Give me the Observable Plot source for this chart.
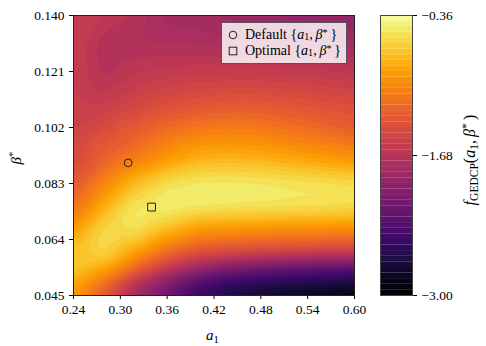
<!DOCTYPE html>
<html><head><meta charset="utf-8">
<script src="https://cdn.jsdelivr.net/npm/d3@7"></script>
<script src="https://cdn.jsdelivr.net/npm/@observablehq/plot@0.6"></script>
<style>
body{margin:0;background:#fff;}
#fig{position:relative;width:486px;height:346px;font-family:"Liberation Serif","Times New Roman",serif;color:#000;overflow:hidden;}
#main,#cbar{position:absolute;top:0;}
#main{left:0;} #cbar{left:370px;}
.lab{position:absolute;font-size:15px;white-space:nowrap;line-height:1;}
.rot{transform:translate(-50%,-50%) rotate(-90deg);}
sub,sup{font-size:72%;line-height:0;}
sup{vertical-align:0.45em;}
sub{vertical-align:-0.25em;}
#legend{position:absolute;left:221px;top:22px;width:124px;height:40px;background:rgba(255,255,255,0.82);border:1px solid #555;font-size:14px;}
#legend sup{vertical-align:0.33em;}
#legend sub{vertical-align:-0.12em;}
.lrow{position:absolute;left:0;height:16px;line-height:16px;white-space:nowrap;}
.lrow svg{position:absolute;left:6px;top:3px;}
.lrow span{position:absolute;left:23px;top:0;}
</style></head><body>
<div id="fig">
 <div id="main"></div>
 <div id="cbar"></div>
 <div class="lab" style="left:206px;top:328px;"><i>a</i><sub>1</sub></div>
 <div class="lab rot" style="left:16px;top:158px;"><i>β</i><sup>*</sup></div>
 <div class="lab rot" style="left:470px;top:160px;font-size:16px;"><i>f</i><sub>GEDCP</sub>(<i>a</i><sub>1</sub>,&#8201;<i>β</i><sup>*</sup>&#8201;)</div>
 <div id="legend">
  <div class="lrow" style="top:4px;"><svg width="10" height="10"><circle cx="5" cy="5" r="3.8" fill="none" stroke="#222" stroke-width="1"/></svg><span>Default {<i>a</i><sub>1</sub>,&#8201;<i>β</i><sup>*</sup>&#8201;}</span></div>
  <div class="lrow" style="top:20px;"><svg width="10" height="10"><rect x="1.2" y="1.2" width="7.6" height="7.6" fill="none" stroke="#222" stroke-width="1"/></svg><span>Optimal {<i>a</i><sub>1</sub>,&#8201;<i>β</i><sup>*</sup>&#8201;}</span></div>
 </div>
</div>
<script>
// grid coordinates
const a1Values = [0.24, 0.28, 0.32, 0.36, 0.40, 0.44, 0.48, 0.52, 0.56, 0.60];
const betaValues = [0.045, 0.050, 0.055, 0.060, 0.065, 0.070, 0.075, 0.080, 0.085, 0.090, 0.100, 0.110, 0.120, 0.130, 0.140];
// f_GEDCP values, one row per beta value, one column per a1 value
const fGrid = [
 [-0.94, -1.36, -1.89, -2.21, -2.55, -2.74, -2.82, -2.87, -2.92, -2.95],
 [-0.78, -1.13, -1.65, -2.02, -2.31, -2.47, -2.52, -2.58, -2.60, -2.66],
 [-0.62, -0.78, -1.15, -1.52, -1.81, -2.00, -2.10, -2.16, -2.21, -2.23],
 [-0.68, -0.57, -0.89, -1.18, -1.36, -1.42, -1.44, -1.47, -1.50, -1.52],
 [-0.84, -0.52, -0.60, -0.89, -1.07, -1.10, -1.13, -1.15, -1.15, -1.18],
 [-1.00, -0.64, -0.47, -0.60, -0.78, -0.81, -0.81, -0.84, -0.84, -0.86],
 [-1.20, -0.80, -0.49, -0.44, -0.49, -0.52, -0.52, -0.54, -0.54, -0.57],
 [-1.31, -0.95, -0.64, -0.47, -0.44, -0.44, -0.47, -0.49, -0.49, -0.52],
 [-1.39, -1.10, -0.80, -0.62, -0.54, -0.54, -0.54, -0.57, -0.60, -0.62],
 [-1.47, -1.24, -1.07, -0.89, -0.76, -0.73, -0.76, -0.81, -0.86, -0.91],
 [-1.52, -1.40, -1.28, -1.15, -1.07, -1.05, -1.07, -1.13, -1.18, -1.26],
 [-1.55, -1.58, -1.50, -1.42, -1.37, -1.34, -1.34, -1.37, -1.40, -1.42],
 [-1.55, -1.71, -1.63, -1.60, -1.57, -1.57, -1.57, -1.58, -1.60, -1.63],
 [-1.57, -1.73, -1.73, -1.73, -1.73, -1.76, -1.76, -1.79, -1.79, -1.81],
 [-1.57, -1.63, -1.68, -1.81, -1.84, -1.86, -1.89, -1.92, -1.94, -1.97]
];
const xTicks = [0.24, 0.30, 0.36, 0.42, 0.48, 0.54, 0.60];
const yTicks = [0.045, 0.064, 0.083, 0.102, 0.121, 0.140];
const cTicks = [-3.00, -1.68, -0.36];
const markerNames = ["Default", "Optimal"];
const markerA1 = [0.31, 0.34];
const markerBeta = [0.090, 0.075];

const cMin = -3.00, cMax = -0.36, nLevels = 50;
const levelStep = (cMax - cMin) / nLevels;
const levels = d3.range(nLevels).map(i => cMin + i * levelStep);

const points = betaValues.flatMap((b, i) => a1Values.map((a, j) => ({a1: a, beta: b, f: fGrid[i][j]})));
const markers = markerNames.map((n, i) => ({name: n, a1: markerA1[i], beta: markerBeta[i]}));

const colorOpts = {type: "linear", scheme: "inferno", domain: [cMin, cMax]};
const fontStyle = {fontFamily: "'Liberation Serif', 'Times New Roman', serif", fontSize: "13.5px", color: "#000", background: "transparent"};
const minus = d => (d < 0 ? "\u2212" : "") + Math.abs(d).toFixed(2);

const main = Plot.plot({
  width: 370, height: 346,
  marginLeft: 73, marginRight: 16, marginTop: 15, marginBottom: 51,
  style: fontStyle,
  x: {domain: [0.24, 0.60], ticks: xTicks, tickFormat: d => d.toFixed(2), tickSize: 4, tickPadding: 5, label: null},
  y: {domain: [0.045, 0.140], ticks: yTicks, tickFormat: d => d.toFixed(3), tickSize: 4, tickPadding: 5, label: null},
  color: colorOpts,
  marks: [
    Plot.contour(points, {x: "a1", y: "beta", fill: "f", interpolate: "barycentric", thresholds: levels, blur: 3, clip: true}),
    Plot.dot([markers[0]], {x: "a1", y: "beta", symbol: "circle", r: 3.9, stroke: "#222", strokeWidth: 1, fill: "none"}),
    Plot.dot([markers[1]], {x: "a1", y: "beta", symbol: "square", r: 4.4, stroke: "#222", strokeWidth: 1, fill: "none"}),
    Plot.frame({stroke: "#222"})
  ]
});
document.getElementById("main").append(main);

const cbar = Plot.plot({
  width: 116, height: 346,
  marginLeft: 10, marginRight: 74, marginTop: 15, marginBottom: 51,
  style: fontStyle,
  x: {domain: [0, 1], axis: null},
  y: {domain: [cMin, cMax], ticks: cTicks, tickFormat: minus, axis: "right", tickSize: 4, tickPadding: 5, label: null},
  color: colorOpts,
  marks: [
    Plot.rect(levels, {x1: 0, x2: 1, y1: d => d, y2: d => Math.min(cMax, d + levelStep * 1.02), fill: d => d}),
    Plot.frame({stroke: "#444"})
  ]
});
document.getElementById("cbar").append(cbar);
</script>
</body></html>
